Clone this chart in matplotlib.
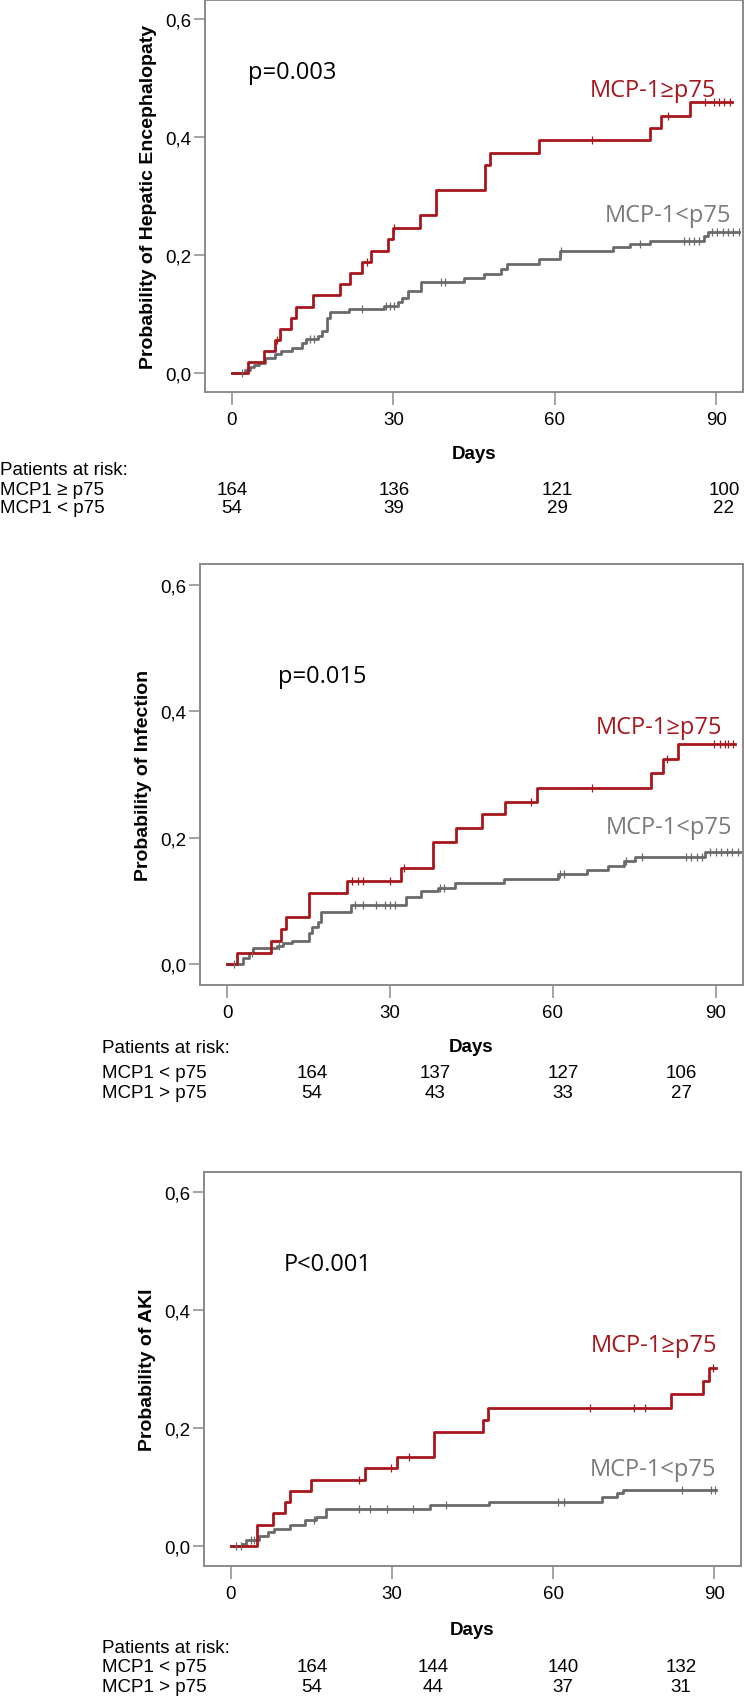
import matplotlib
matplotlib.use("Agg")
import matplotlib.pyplot as plt
import numpy as np

W, H = 744, 1699

# ---- data (days, cumulative probability) ----
# panel 1: hepatic encephalopathy
he_hi_t = [2.9, 5.9, 8.0, 8.9, 10.9, 12.0, 15.0, 20.1, 22.0, 24.1, 25.9, 29.0, 29.9,
           34.9, 38.0, 47.1, 47.9, 57.1, 77.8, 79.8, 85.2]
he_hi_p = [0.018, 0.037, 0.056, 0.074, 0.092, 0.112, 0.131, 0.150, 0.169, 0.187, 0.207,
           0.227, 0.246, 0.267, 0.310, 0.352, 0.373, 0.394, 0.415, 0.436, 0.459]
he_hi_cens = [8.3, 25.2, 30.1, 67.0, 81.0, 88.0, 89.6, 90.6, 91.5, 92.6]
he_hi_end = 93.0

he_lo_t = [2.4, 3.4, 4.2, 5.0, 6.1, 8.0, 9.2, 11.1, 13.0, 13.7, 16.0, 16.8, 17.7, 18.3,
           21.7, 28.2, 30.9, 31.7, 32.8, 35.1, 43.1, 46.9, 50.0, 51.1, 57.1, 61.0,
           70.9, 74.0, 77.8, 87.7, 88.5]
he_lo_p = [0.005, 0.009, 0.013, 0.017, 0.024, 0.031, 0.037, 0.042, 0.050, 0.057, 0.062,
           0.070, 0.093, 0.102, 0.108, 0.113, 0.119, 0.127, 0.139, 0.153, 0.160, 0.167,
           0.175, 0.184, 0.193, 0.206, 0.213, 0.218, 0.224, 0.231, 0.239]
he_lo_cens = [1.9, 14.5, 15.3, 24.1, 28.6, 29.4, 30.1, 38.9, 39.7, 61.2, 75.8, 84.0,
              84.9, 85.9, 86.9, 89.3, 90.2, 91.2, 92.2, 93.2, 94.2]
he_lo_end = 94.2

# panel 2: infection
inf_hi_t = [1.9, 8.0, 9.9, 10.9, 15.0, 22.0, 32.0, 38.0, 42.1, 47.0, 51.1, 57.0,
            78.0, 80.2, 83.1]
inf_hi_p = [0.018, 0.037, 0.055, 0.075, 0.112, 0.132, 0.152, 0.194, 0.215, 0.237,
            0.257, 0.279, 0.302, 0.324, 0.348]
inf_hi_cens = [23.0, 24.1, 25.0, 30.0, 32.6, 56.0, 67.1, 81.0, 89.6, 90.8, 91.6,
               92.3, 93.1]
inf_hi_end = 93.5

inf_lo_t = [2.9, 4.1, 4.8, 9.1, 10.2, 11.9, 15.0, 15.6, 16.7, 17.3, 22.8, 33.0, 35.7,
            38.8, 42.0, 50.9, 60.9, 66.2, 70.1, 73.0, 75.2, 88.0]
inf_lo_p = [0.010, 0.018, 0.025, 0.029, 0.033, 0.037, 0.050, 0.058, 0.067, 0.083,
            0.094, 0.106, 0.116, 0.121, 0.129, 0.134, 0.142, 0.149, 0.155, 0.163,
            0.170, 0.177]
inf_lo_cens = [1.3, 4.5, 9.5, 23.5, 25.0, 27.5, 29.0, 30.0, 31.0, 39.2, 40.0, 61.3,
               62.0, 73.4, 76.4, 84.5, 85.5, 86.5, 87.5, 89.0, 90.0, 91.0, 92.0,
               93.0, 94.0]
inf_lo_end = 94.5

# panel 3: AKI
aki_hi_t = [4.9, 7.9, 10.0, 11.0, 15.0, 25.0, 30.9, 37.9, 46.9, 47.9, 82.0, 88.0, 89.1]
aki_hi_p = [0.037, 0.056, 0.075, 0.093, 0.112, 0.132, 0.152, 0.193, 0.214, 0.234,
            0.257, 0.279, 0.302]
aki_hi_cens = [23.9, 29.9, 33.2, 66.9, 75.0, 77.1, 89.7]
aki_hi_end = 90.4

aki_lo_t = [2.0, 2.9, 5.3, 6.9, 8.0, 11.0, 13.8, 15.9, 17.8, 37.1, 48.1, 69.1, 72.0, 73.0]
aki_lo_p = [0.005, 0.011, 0.018, 0.024, 0.030, 0.037, 0.044, 0.050, 0.063, 0.070,
            0.076, 0.083, 0.091, 0.096]
aki_lo_cens = [0.9, 1.8, 3.7, 4.3, 15.5, 23.8, 26.0, 29.0, 34.0, 40.0, 61.0, 62.0,
               84.0, 89.5, 90.2]
aki_lo_end = 90.4

ylabels = ["Probability of Hepatic Encephalopaty", "Probability of Infection",
           "Probability of AKI"]
pvalues = ["p=0.003", "p=0.015", "P<0.001"]
hi_label = "MCP-1\u2265p75"
lo_label = "MCP-1<p75"

xticks = [0, 30, 60, 90]
yticks = [0.0, 0.2, 0.4, 0.6]
ytick_labels = ["0,0", "0,2", "0,4", "0,6"]

risk_rows = [["MCP1 \u2265 p75", "MCP1 < p75"],
             ["MCP1 < p75", "MCP1 > p75"],
             ["MCP1 < p75", "MCP1 > p75"]]
risk_hi = [[164, 136, 121, 100], [164, 137, 127, 106], [164, 144, 140, 132]]
risk_lo = [[54, 39, 29, 22], [54, 43, 33, 27], [54, 44, 37, 31]]

RED = "#a8161d"
GRAY = "#6a6a6a"
FRAME = "#8a8a8a"
SANS = ["Liberation Sans", "DejaVu Sans"]
ANNOT = ["Open Sans", "DejaVu Sans"]

# ---- layout (pixels) ----
# axes box: left, top, right, bottom
boxes = [(205, 0.5, 743, 393), (200, 565, 743, 986), (204, 1173, 741, 1567)]
# p-value (x, y data, left aligned), labels (right x, y data)
pv_pos = [(3.0, 0.500), (9.4, 0.446), (9.8, 0.467)]
hi_pos = [(90.0, 0.469), (91.1, 0.366), (90.6, 0.330)]
lo_pos = [(92.8, 0.258), (93.0, 0.207), (90.3, 0.120)]
# risk table: label x, baselines (days, header, row1, row2), number centres
risk_x0 = [0, 102, 102]
risk_base = [(459, 475, 495, 513), (1052, 1053, 1078, 1098), (1635, 1653, 1672, 1692)]
risk_cols = [[232, 394, 557, 724], [312, 435, 563, 681], [312, 433, 563, 681]]

curves = [
    ((he_hi_t, he_hi_p, he_hi_end, he_hi_cens), (he_lo_t, he_lo_p, he_lo_end, he_lo_cens)),
    ((inf_hi_t, inf_hi_p, inf_hi_end, inf_hi_cens), (inf_lo_t, inf_lo_p, inf_lo_end, inf_lo_cens)),
    ((aki_hi_t, aki_hi_p, aki_hi_end, aki_hi_cens), (aki_lo_t, aki_lo_p, aki_lo_end, aki_lo_cens)),
]


def km(ax, t, p, end, cens, color):
    # cumulative incidence step curve with censor ticks
    x = np.r_[0, t, end]
    y = np.r_[0, p, p[-1]]
    ax.step(x, y, where="post", color=color, lw=2.0, zorder=3)
    idx = np.searchsorted(t, cens, side="right")
    yc = np.r_[0, p][idx]
    ax.plot(cens, yc, ls="none", marker="|", ms=6, mew=0.9, color=color, zorder=4)


def fx(px):
    return px / W


def fy(py):
    return 1 - py / H


fig = plt.figure(figsize=(W / 100, H / 100), dpi=100)

for i in range(3):
    l, t, r, b = boxes[i]
    ax = fig.add_axes([fx(l), fy(b), (r - l) / W, (b - t) / H])
    hi, lo = curves[i]
    km(ax, *lo, GRAY)
    km(ax, *hi, RED)

    ax.set_xlim(-5, 95)
    ax.set_ylim(-0.033, 0.633)
    ax.set_xticks(xticks)
    ax.set_xticklabels([str(v) for v in xticks], family=SANS, fontsize=13.5)
    ax.set_yticks(yticks)
    ax.set_yticklabels(ytick_labels, family=SANS, fontsize=13.5)
    ax.tick_params(axis="x", direction="out", length=9, width=1.1, color=FRAME, pad=4.5)
    ax.tick_params(axis="y", direction="out", length=8, width=1.1, color=FRAME, pad=2)
    for s in ax.spines.values():
        s.set_color(FRAME)
        s.set_linewidth(1.4)

    ax.set_ylabel(ylabels[i], family=SANS, fontsize=14, fontweight="bold")
    ax.yaxis.set_label_coords(-0.089, 0.5)

    ax.text(*pv_pos[i], pvalues[i], family=ANNOT, fontsize=17, va="baseline", color="black")
    ax.text(*hi_pos[i], hi_label, family=ANNOT, fontsize=17, va="baseline", ha="right", color=RED)
    ax.text(*lo_pos[i], lo_label, family=ANNOT, fontsize=17, va="baseline", ha="right", color="#7a7a7a")

    # axis title and patients-at-risk table
    days_b, head_b, r1_b, r2_b = risk_base[i]
    fig.text(fx((l + r) / 2), fy(days_b), "Days", family=SANS, fontsize=13.5,
             fontweight="bold", ha="center", va="baseline")
    fig.text(fx(risk_x0[i]), fy(head_b), "Patients at risk:", family=SANS, fontsize=13.5,
             va="baseline")
    fig.text(fx(risk_x0[i]), fy(r1_b), risk_rows[i][0], family=SANS, fontsize=13.5,
             va="baseline")
    fig.text(fx(risk_x0[i]), fy(r2_b), risk_rows[i][1], family=SANS, fontsize=13.5,
             va="baseline")
    for cx, n1, n2 in zip(risk_cols[i], risk_hi[i], risk_lo[i]):
        fig.text(fx(cx), fy(r1_b), str(n1), family=SANS, fontsize=13.5, ha="center", va="baseline")
        fig.text(fx(cx), fy(r2_b), str(n2), family=SANS, fontsize=13.5, ha="center", va="baseline")

fig.savefig("out.png", dpi=100)
